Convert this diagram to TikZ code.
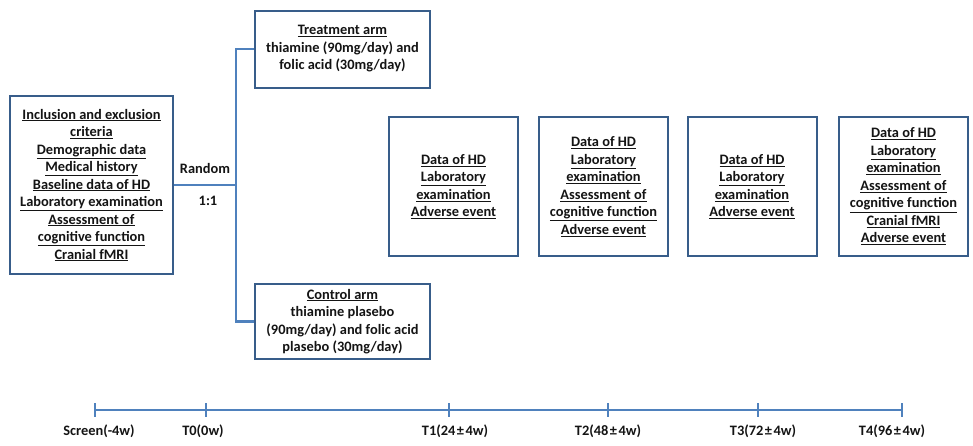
\documentclass[tikz,border=0pt]{standalone}
\usepackage{fontspec}
\setmainfont{Carlito}
\usetikzlibrary{positioning, calc}
\definecolor{boxblue}{RGB}{56,93,138}
\definecolor{lineblue}{RGB}{79,129,189}
\definecolor{inkblack}{RGB}{20,20,20}
\newcommand{\ulx}[1]{\underline{#1}}
\newcommand{\pmw}{\kern1.5pt±\kern1.5pt}

\begin{document}
\begin{tikzpicture}[
    x=1pt, y=-1pt,
    font=\fontsize{14.4}{17.5}\selectfont\bfseries,
    every node/.style={text=inkblack},
    panel/.style={draw=boxblue, line width=2pt, fill=white, align=center, inner sep=2pt},
    basebox/.style={panel, minimum width=163pt, minimum height=178pt},
    armbox/.style={panel, minimum width=175pt, minimum height=77pt},
    visitbox/.style={panel, minimum width=129pt, minimum height=139pt},
    link/.style={draw=lineblue, line width=2.4pt},
    lbl/.style={inner sep=1pt},
]
\useasboundingbox (0,0) rectangle (973,445);

% ------------------------------------------------------------- baseline ---
\node[basebox] (base) at (91.5,185)
  {\ulx{Inclusion and exclusion}\\\ulx{criteria}\\\ulx{Demographic data}\\\ulx{Medical history}\\
   \ulx{Baseline data of HD}\\\ulx{Laboratory examination}\\\ulx{Assessment of}\\
   \ulx{cognitive function}\\\ulx{Cranial fMRI}};

% ----------------------------------------------------------------- arms ---
\node[armbox] (treat) at (342.5,49)
  {\ulx{Treatment arm}\\thiamine (90mg/day) and\\folic acid (30mg/day)};
\node[armbox, minimum height=75pt] (ctrl) at (342.5,321.5)
  {\ulx{Control arm}\\thiamine plasebo\\(90mg/day) and folic acid\\plasebo (30mg/day)};

\coordinate (split) at (236,185);
\draw[link] (base.east) -- (split);
\draw[link] (treat.west) -- (treat.west -| split) -- (ctrl.west -| split) -- (ctrl.west);
\node[lbl] (random) at (205,168) {Random};
\node[lbl] (ratio) at (208,201) {1:1};

% --------------------------------------------------------------- visits ---
\node[visitbox] (v1) at (453.5,186.5)
  {\ulx{Data of HD}\\\ulx{Laboratory}\\\ulx{examination}\\\ulx{Adverse event}};
\node[visitbox] (v2) at (603.5,186.5)
  {\ulx{Data of HD}\\\ulx{Laboratory}\\\ulx{examination}\\\ulx{Assessment of}\\
   \ulx{cognitive function}\\\ulx{Adverse event}};
\node[visitbox] (v3) at (752,186.5)
  {\ulx{Data of HD}\\\ulx{Laboratory}\\\ulx{examination}\\\ulx{Adverse event}};
\node[visitbox] (v4) at (903.5,186.5)
  {\ulx{Data of HD}\\\ulx{Laboratory}\\\ulx{examination}\\\ulx{Assessment of}\\
   \ulx{cognitive function}\\\ulx{Cranial fMRI}\\\ulx{Adverse event}};

% ------------------------------------------------------------- timeline ---
\foreach \x/\n in {95/0, 206/1, 449/2, 608/3, 758/4, 902/5}
  \coordinate (tick\n) at (\x,410);
\draw[link] (tick0) -- (tick5);
\foreach \n in {0,...,5}
  \draw[link] ($(tick\n)+(0,-7)$) -- ($(tick\n)+(0,7)$);
\foreach \lx/\n/\txt in {99/0/Screen(-4w), 203/1/T0(0w), 455/2/T1(24\pmw4w),
                         608/3/T2(48\pmw4w), 763/4/T3(72\pmw4w), 892/5/T4(96\pmw4w)}
  \node[lbl] (lab\n) at (\lx,431) {\txt};

\end{tikzpicture}
\end{document}
